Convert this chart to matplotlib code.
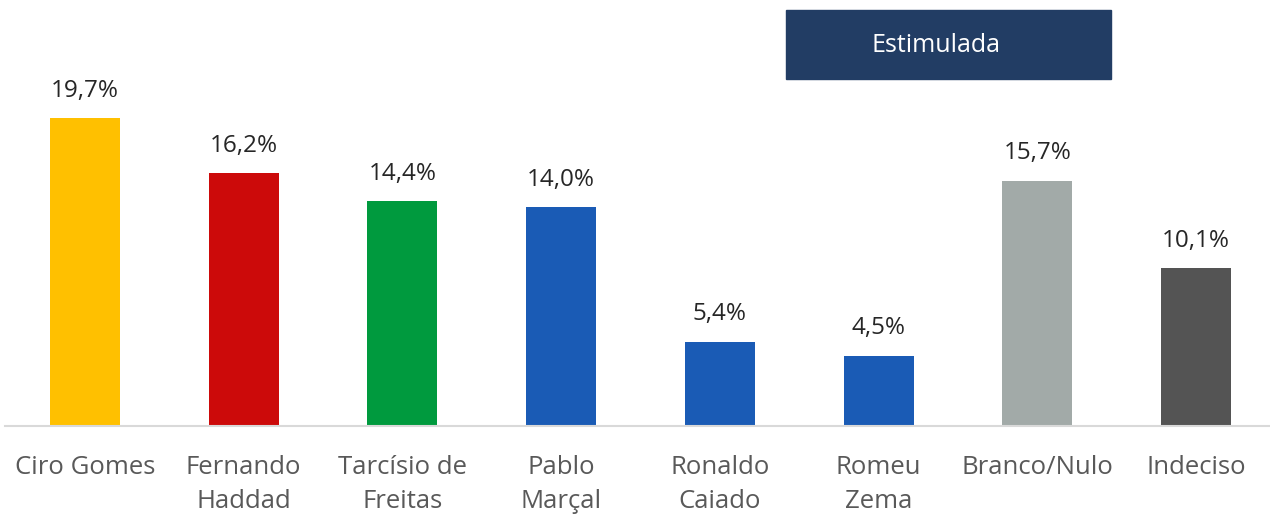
import matplotlib.pyplot as plt
from matplotlib.patches import Rectangle

candidates = ["Ciro Gomes", "Fernando\nHaddad", "Tarcísio de\nFreitas", "Pablo\nMarçal",
              "Ronaldo\nCaiado", "Romeu\nZema", "Branco/Nulo", "Indeciso"]
values = [19.7, 16.2, 14.4, 14.0, 5.4, 4.5, 15.7, 10.1]
colors = ["#FFC000", "#CC0A0A", "#009A3E", "#1A5BB5", "#1A5BB5", "#1A5BB5", "#A2AAA8", "#545454"]
title = "Estimulada"

plt.rcParams["font.family"] = ["Open Sans", "DejaVu Sans"]

W, H = 1270, 517
fig = plt.figure(figsize=(W / 100, H / 100), dpi=100)
ax = fig.add_axes([5 / W, 91 / H, 1265 / W, 426 / H])

x = range(len(values))
ax.bar(x, values, width=0.441, color=colors)
ax.set_xlim(-0.504, 7.466)
ax.set_ylim(0, 426 / 15.63)

for xi, v in zip(x, values):
    ax.annotate(f"{v:.1f}%".replace(".", ","), (xi, v), xytext=(0, 11),
                textcoords="offset points", ha="center", va="bottom",
                fontsize=17.5, color="#262626")

ax.set_xticks(list(x))
ax.set_xticklabels(candidates, fontsize=18.5, color="#595959", linespacing=1.45)
ax.tick_params(axis="x", length=0, pad=21)
ax.set_yticks([])
for s in ["top", "right", "left"]:
    ax.spines[s].set_visible(False)
ax.spines["bottom"].set_color("#D9D9D9")
ax.spines["bottom"].set_linewidth(1.5)

fig.patches.append(Rectangle((786 / W, 1 - 79 / H), 325 / W, 69 / H,
                             transform=fig.transFigure, color="#223D64"))
fig.text(936 / W, 1 - 45 / H, title, ha="center", va="center",
         fontsize=18, color="white")

fig.savefig("out.png", dpi=100)
